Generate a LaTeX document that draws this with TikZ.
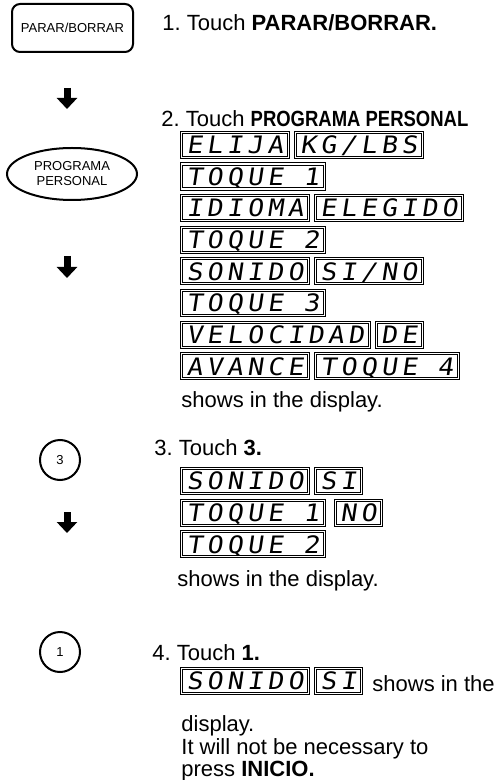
\documentclass[tikz,border=0pt]{standalone}
\usepackage{fontspec}
\setmainfont{Liberation Sans}
\newfontfamily\lcdfont[FakeSlant=0.15, FakeStretch=1.1, LetterSpace=18]{DejaVu Sans Mono}
\newfontfamily\narrowfont[FakeStretch=0.84]{Liberation Sans}
\usepackage{tikz}
\usetikzlibrary{arrows.meta, positioning, shapes.geometric}
\frenchspacing

\begin{document}
\begin{tikzpicture}[
x=0.5pt, y=-0.5pt,
every node/.style={font=\fontsize{11}{13}\selectfont, inner sep=0pt},
keybox/.style={rectangle, rounded corners=4pt, draw, line width=1pt,
minimum width=60.5pt, minimum height=24pt, font=\fontsize{6.5}{7.5}\selectfont},
keyoval/.style={ellipse, draw, line width=1pt, minimum width=65pt, minimum height=26pt,
align=center, font=\fontsize{6.5}{7.5}\selectfont},
keyround/.style={circle, draw, line width=1pt, minimum size=20pt, font=\fontsize{6.5}{7.5}\selectfont},
downarrow/.style={-{Triangle[width=10pt, length=5.5pt]}, line width=3.5pt},
lcd/.style={rectangle, draw, line width=0.5pt, double, double distance=0.6pt,
minimum height=12.5pt, inner xsep=2.5pt, text height=8.8pt, text depth=0pt,
font=\lcdfont\fontsize{12}{12}\selectfont},
steptext/.style={anchor=base west}
]
\useasboundingbox (0,0) rectangle (495,780);

% keys on the left
\node[keybox] (parar) at (72.5,28) {PARAR/BORRAR};
\node[keyoval] (prog) at (72,174) {PROGRAMA\\PERSONAL};
\node[keyround] (key3) at (60,460) {3};
\node[keyround] (key1) at (60,652) {1};

\coordinate (arrA) at (67,88);
\coordinate (arrB) at (67,256);
\coordinate (arrC) at (67,512);
\draw[downarrow] (arrA) -- ++(0,21);
\draw[downarrow] (arrB) -- ++(0,22);
\draw[downarrow] (arrC) -- ++(0,21);

% step 1 and 2
\node[steptext] (step1) at (162,31) {1. Touch \textbf{PARAR/BORRAR.}};
\node[steptext] (step2) at (161,127) {2. Touch {\narrowfont\bfseries PROGRAMA PERSONAL}};

\node[lcd, anchor=north west] (elija) at (181,132) {ELIJA};
\node[lcd, right=3pt of elija] (kglbs) {KG/LBS};
\node[lcd, below=2.8pt of elija.south west, anchor=north west] (toque1) {TOQUE 1};
\node[lcd, below=2.8pt of toque1.south west, anchor=north west] (idioma) {IDIOMA};
\node[lcd, right=3pt of idioma] (elegido) {ELEGIDO};
\node[lcd, below=2.8pt of idioma.south west, anchor=north west] (toque2) {TOQUE 2};
\node[lcd, below=2.8pt of toque2.south west, anchor=north west] (sonido) {SONIDO};
\node[lcd, right=3pt of sonido] (sino) {SI/NO};
\node[lcd, below=2.8pt of sonido.south west, anchor=north west] (toque3) {TOQUE 3};
\node[lcd, below=2.8pt of toque3.south west, anchor=north west] (velocidad) {VELOCIDAD};
\node[lcd, right=3pt of velocidad] (de) {DE};
\node[lcd, below=2.8pt of velocidad.south west, anchor=north west] (avance) {AVANCE};
\node[lcd, right=3pt of avance] (toque4) {TOQUE 4};
\node[steptext] (shows2) at (181,407) {shows in the display.};

% step 3
\node[steptext] (step3) at (154,455) {3. Touch \textbf{3.}};
\node[lcd, anchor=north west] (sonidoB) at (181,468) {SONIDO};
\node[lcd, right=3pt of sonidoB] (siB) {SI};
\node[lcd, below=2.8pt of sonidoB.south west, anchor=north west] (toqueB1) {TOQUE 1};
\node[lcd, right=5pt of toqueB1] (noB) {NO};
\node[lcd, below=2.8pt of toqueB1.south west, anchor=north west] (toqueB2) {TOQUE 2};
\node[steptext] (shows3) at (177,586) {shows in the display.};

% step 4
\node[steptext] (step4) at (152,660) {4. Touch \textbf{1.}};
\node[lcd, anchor=north west] (sonidoC) at (181,668) {SONIDO};
\node[lcd, right=3pt of sonidoC] (siC) {SI};
\node[steptext] (shows4) at (372,691) {shows in the};
\node[steptext] (disp4) at (181,731) {display.};
\node[steptext] (note4) at (181,754) {It will not be necessary to};
\node[steptext] (press4) at (181,776) {press \textbf{INICIO.}};

\end{tikzpicture}
\end{document}
